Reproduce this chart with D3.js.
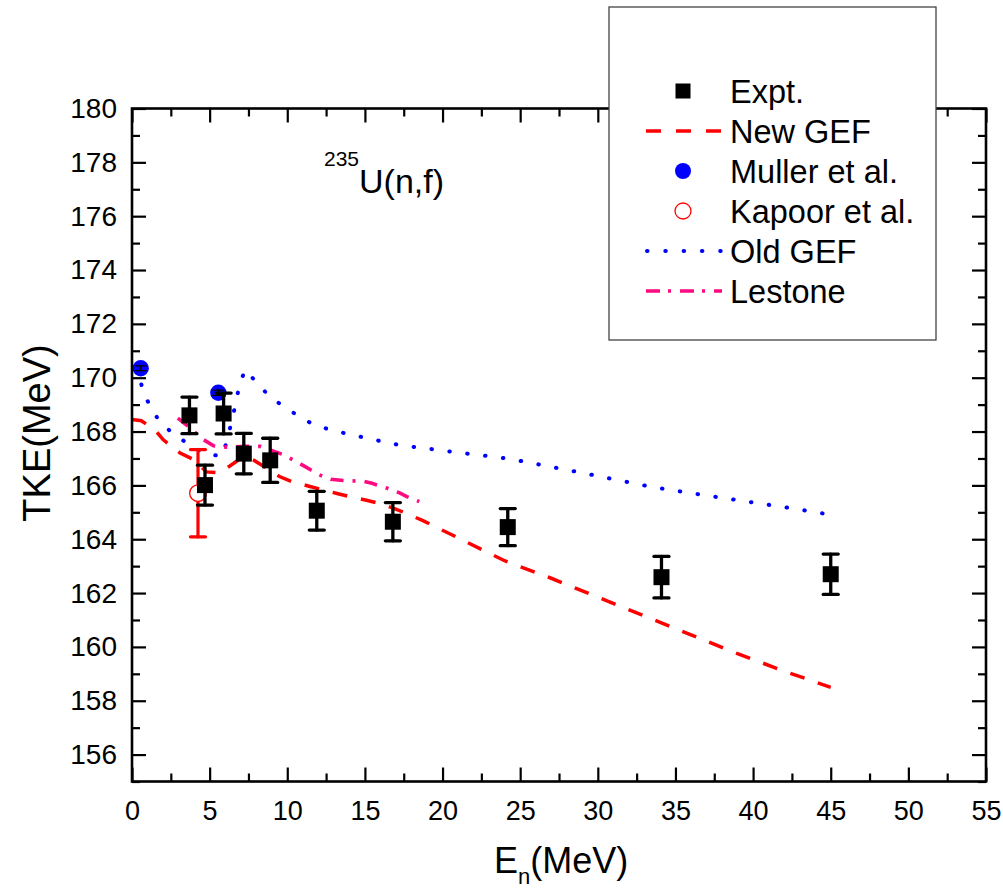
<!DOCTYPE html>
<html>
<head>
<meta charset="utf-8">
<script src="https://cdn.jsdelivr.net/npm/d3@7/dist/d3.min.js"></script>
<style>
  html, body { margin: 0; padding: 0; background: #fff; }
  svg { display: block; font-family: "Liberation Sans", Arial, sans-serif; }
</style>
</head>
<body>
<svg id="chart" width="1003" height="891"></svg>
<script>
// ---------- data ----------
const expE   = [3.7, 4.7, 5.9, 7.2, 8.9, 11.9, 16.8, 24.2, 34.1, 45.0];
const expTKE = [168.60, 166.01, 168.67, 167.18, 166.93, 165.06, 164.65, 164.45, 162.59, 162.70];
const expErr = [0.68, 0.74, 0.76, 0.75, 0.82, 0.72, 0.71, 0.69, 0.77, 0.75];

const mullerE   = [0.56, 5.56];
const mullerTKE = [170.35, 169.44];
const mullerErr = [0.09, 0.10];

const kapoorE   = [4.25];
const kapoorTKE = [165.71];
const kapoorErr = [1.62];

const newGefE   = [0, 0.6, 1.5, 2.0, 3.1, 4.0, 4.8, 5.6, 6.3, 7.0, 7.3, 7.8, 8.5, 9.5, 10.3, 11.4, 12.2, 13.2, 14.1, 15.1, 16.0, 16.9, 17.7, 18.7, 21, 24, 27, 30, 33, 36, 39, 42, 45];
const newGefTKE = [168.45, 168.4, 168.05, 167.7, 167.2, 166.95, 166.5, 166.47, 166.72, 167.0, 167.08, 166.95, 166.7, 166.33, 166.14, 165.97, 165.85, 165.7, 165.57, 165.45, 165.32, 165.14, 164.95, 164.7, 164.05, 163.2, 162.55, 161.85, 161.15, 160.45, 159.75, 159.1, 158.5];

const oldGefE   = [0.35, 0.7, 1.2, 1.8, 2.65, 3.6, 4.8, 5.85, 6.45, 6.95, 7.3, 8.05, 8.9, 9.85, 10.8, 11.85, 13.0, 14.1, 15.25, 16.3, 17.5, 18.7, 21.0, 23.3, 24.4, 26.7, 28.95, 31.25, 33.5, 35.8, 38.1, 40.4, 42.7, 44.9];
const oldGefTKE = [170.4, 169.5, 168.9, 168.35, 167.92, 167.55, 167.14, 167.1, 168.44, 169.8, 170.3, 169.8, 169.28, 168.9, 168.55, 168.2, 168.05, 167.87, 167.75, 167.6, 167.47, 167.39, 167.22, 167.06, 166.98, 166.72, 166.47, 166.2, 165.94, 165.73, 165.53, 165.33, 165.13, 164.92];

const lestoneE   = [2.95, 3.6, 4.6, 5.25, 6.1, 7.3, 8.25, 9.75, 10.75, 11.5, 12.15, 12.8, 13.6, 14.9, 15.45, 16.4, 17.2, 17.7, 18.5];
const lestoneTKE = [168.5, 168.2, 167.7, 167.47, 167.42, 167.45, 167.45, 167.14, 166.83, 166.58, 166.37, 166.23, 166.18, 166.15, 166.08, 165.9, 165.73, 165.58, 165.4];

const xMajorTicks = [0, 5, 10, 15, 20, 25, 30, 35, 40, 45, 50, 55];
const xMinorTicks = [2.5, 7.5, 12.5, 17.5, 22.5, 27.5, 32.5, 37.5, 42.5, 47.5, 52.5];
const yMajorTicks = [156, 158, 160, 162, 164, 166, 168, 170, 172, 174, 176, 178, 180];
const yMinorTicks = [155, 157, 159, 161, 163, 165, 167, 169, 171, 173, 175, 177, 179];

const legendLabels = ["Expt.", "New GEF", "Muller et al.", "Kapoor et al.", "Old GEF", "Lestone"];

// ---------- setup ----------
const svg = d3.select("#chart");
const x = d3.scaleLinear().domain([0, 55]).range([132, 986]);
const y = d3.scaleLinear().domain([155, 180]).range([781.5, 108.5]);

const RED = "#ff0000", BLUE = "#0000ff", PINK = "#ff0a80";

// ---------- lines ----------
const line = d3.line().x(d => x(d[0])).y(d => y(d[1]));
const zip = (a, b) => a.map((v, i) => [v, b[i]]);

const gLines = svg.append("g");
gLines.append("path").datum(zip(oldGefE, oldGefTKE)).attr("d", line)
  .attr("fill", "none").attr("stroke", BLUE).attr("stroke-width", 4)
  .attr("stroke-linecap", "round").attr("stroke-dasharray", "0.5,17.5");
gLines.append("path").datum(zip(lestoneE, lestoneTKE)).attr("d", line)
  .attr("fill", "none").attr("stroke", PINK).attr("stroke-width", 3.6)
  .attr("stroke-dasharray", "13,9,3,9");
gLines.append("path").datum(zip(newGefE, newGefTKE)).attr("d", line)
  .attr("fill", "none").attr("stroke", RED).attr("stroke-width", 3.5)
  .attr("stroke-dasharray", "15,14");

// ---------- error bars & markers ----------
function errBars(g, xs, ys, es, color, sw, capW) {
  const d = zip(xs, ys).map((p, i) => [p[0], p[1], es[i]]);
  const gg = g.append("g").attr("stroke", color).attr("stroke-width", sw).attr("stroke-linecap", "round");
  gg.selectAll(".stem").data(d).join("line")
    .attr("x1", v => x(v[0])).attr("x2", v => x(v[0]))
    .attr("y1", v => y(v[1] - v[2])).attr("y2", v => y(v[1] + v[2]));
  gg.selectAll(".capT").data(d).join("line")
    .attr("x1", v => x(v[0]) - capW / 2).attr("x2", v => x(v[0]) + capW / 2)
    .attr("y1", v => y(v[1] + v[2])).attr("y2", v => y(v[1] + v[2]));
  gg.selectAll(".capB").data(d).join("line")
    .attr("x1", v => x(v[0]) - capW / 2).attr("x2", v => x(v[0]) + capW / 2)
    .attr("y1", v => y(v[1] - v[2])).attr("y2", v => y(v[1] - v[2]));
}

const gMarks = svg.append("g");
// Kapoor
errBars(gMarks, kapoorE, kapoorTKE, kapoorErr, RED, 3.2, 15);
gMarks.selectAll(".kap").data(zip(kapoorE, kapoorTKE)).join("circle")
  .attr("cx", d => x(d[0])).attr("cy", d => y(d[1])).attr("r", 8.3)
  .attr("fill", "#fff").attr("stroke", RED).attr("stroke-width", 1.3);
// Muller
gMarks.selectAll(".mul").data(zip(mullerE, mullerTKE)).join("circle")
  .attr("cx", d => x(d[0])).attr("cy", d => y(d[1])).attr("r", 8.2)
  .attr("fill", BLUE);
errBars(gMarks, mullerE, mullerTKE, mullerErr, "#000", 1.3, 11);
// Expt
errBars(gMarks, expE, expTKE, expErr, "#000", 3.3, 15);
gMarks.selectAll(".exp").data(zip(expE, expTKE)).join("rect")
  .attr("x", d => x(d[0]) - 8).attr("y", d => y(d[1]) - 8)
  .attr("width", 16).attr("height", 16).attr("fill", "#000");

// ---------- axes ----------
function styleAxis(g, fs) {
  g.select(".domain").remove();
  g.selectAll(".tick line").attr("stroke", "#000").attr("stroke-width", 2.2);
  g.selectAll(".tick text").attr("fill", "#000").attr("font-size", fs)
    .attr("font-family", "'Liberation Sans', Arial, sans-serif");
}
const pBottom = y(155), pTop = y(180), pLeft = x(0), pRight = x(55);

const gxB = svg.append("g").attr("transform", `translate(0,${pBottom})`)
  .call(d3.axisBottom(x).tickValues(xMajorTicks).tickSize(-14).tickSizeOuter(0).tickPadding(19).tickFormat(d3.format("d")));
styleAxis(gxB, 27);
const gxBm = svg.append("g").attr("transform", `translate(0,${pBottom})`)
  .call(d3.axisBottom(x).tickValues(xMinorTicks).tickSize(-8).tickSizeOuter(0).tickFormat(""));
styleAxis(gxBm, 27);
const gxT = svg.append("g").attr("transform", `translate(0,${pTop})`)
  .call(d3.axisTop(x).tickValues(xMajorTicks).tickSize(-14).tickSizeOuter(0).tickFormat(""));
styleAxis(gxT, 27);
const gxTm = svg.append("g").attr("transform", `translate(0,${pTop})`)
  .call(d3.axisTop(x).tickValues(xMinorTicks).tickSize(-8).tickSizeOuter(0).tickFormat(""));
styleAxis(gxTm, 27);

const gyL = svg.append("g").attr("transform", `translate(${pLeft},0)`)
  .call(d3.axisLeft(y).tickValues(yMajorTicks).tickSize(-14).tickSizeOuter(0).tickPadding(15).tickFormat(d3.format("d")));
styleAxis(gyL, 28);
const gyLm = svg.append("g").attr("transform", `translate(${pLeft},0)`)
  .call(d3.axisLeft(y).tickValues(yMinorTicks).tickSize(-8).tickSizeOuter(0).tickFormat(""));
styleAxis(gyLm, 28);
const gyR = svg.append("g").attr("transform", `translate(${pRight},0)`)
  .call(d3.axisRight(y).tickValues(yMajorTicks).tickSize(-14).tickSizeOuter(0).tickFormat(""));
styleAxis(gyR, 28);
const gyRm = svg.append("g").attr("transform", `translate(${pRight},0)`)
  .call(d3.axisRight(y).tickValues(yMinorTicks).tickSize(-8).tickSizeOuter(0).tickFormat(""));
styleAxis(gyRm, 28);

// frame
svg.append("rect").attr("x", pLeft).attr("y", pTop).attr("width", pRight - pLeft).attr("height", pBottom - pTop)
  .attr("fill", "none").attr("stroke", "#000").attr("stroke-width", 2.6);

// ---------- titles ----------
svg.append("text").attr("transform", "translate(50,433) rotate(-90)")
  .attr("text-anchor", "middle").attr("font-size", 38).attr("fill", "#000")
  .text("TKE(MeV)");

const xt = svg.append("text").attr("x", 494).attr("y", 873).attr("font-size", 36).attr("fill", "#000");
xt.append("tspan").text("E");
xt.append("tspan").attr("font-size", 22).attr("dy", 11).text("n");
xt.append("tspan").attr("dy", -11).text("(MeV)");

const tt = svg.append("text").attr("x", 324).attr("y", 193).attr("font-size", 34).attr("fill", "#000");
tt.append("tspan").attr("font-size", 21).attr("dy", -27).text("235");
tt.append("tspan").attr("dy", 27).text("U(n,f)");

// ---------- legend ----------
const lg = svg.append("g");
lg.append("rect").attr("x", 609).attr("y", 7).attr("width", 327).attr("height", 333)
  .attr("fill", "#fff").attr("stroke", "#444").attr("stroke-width", 1.3);
const rowY = i => 91 + i * 40;
const symX = 683, lineX0 = 646, lineX1 = 722, textX = 730;
lg.append("rect").attr("x", symX - 7.5).attr("y", rowY(0) - 7.5).attr("width", 15).attr("height", 15).attr("fill", "#000");
lg.append("line").attr("x1", lineX0).attr("x2", lineX1).attr("y1", rowY(1)).attr("y2", rowY(1))
  .attr("stroke", RED).attr("stroke-width", 3.3).attr("stroke-dasharray", "15,15");
lg.append("circle").attr("cx", symX).attr("cy", rowY(2)).attr("r", 8).attr("fill", BLUE);
lg.append("circle").attr("cx", symX).attr("cy", rowY(3)).attr("r", 8).attr("fill", "#fff").attr("stroke", RED).attr("stroke-width", 1.3);
lg.append("line").attr("x1", lineX0 + 1).attr("x2", lineX1).attr("y1", rowY(4)).attr("y2", rowY(4))
  .attr("stroke", BLUE).attr("stroke-width", 4).attr("stroke-linecap", "round").attr("stroke-dasharray", "0.5,17.8");
lg.append("line").attr("x1", lineX0).attr("x2", lineX1).attr("y1", rowY(5)).attr("y2", rowY(5))
  .attr("stroke", PINK).attr("stroke-width", 3.5).attr("stroke-dasharray", "14,8,3,9");
lg.selectAll(".lt").data(legendLabels).join("text")
  .attr("x", textX).attr("y", (d, i) => rowY(i) + 11.5)
  .attr("font-size", 32.5).attr("fill", "#000").text(d => d);
</script>
</body>
</html>
